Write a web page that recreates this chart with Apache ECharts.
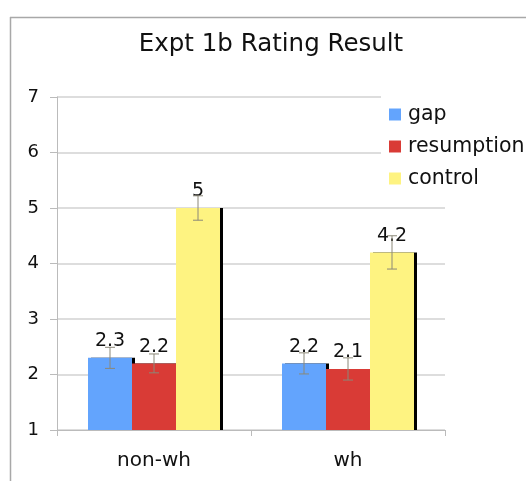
<!DOCTYPE html>
<html>
<head>
<meta charset="utf-8">
<script src="https://cdn.jsdelivr.net/npm/echarts@6/dist/echarts.min.js"></script>
<style>html,body{margin:0;padding:0;background:#fff;}#c{width:526px;height:481px;}</style>
</head>
<body>
<div id="c"></div>
<script>
var categories = ['non-wh', 'wh'];
var seriesNames = ['gap', 'resumption', 'control'];
var gapValues = [2.3, 2.2];
var resumptionValues = [2.2, 2.1];
var controlValues = [5, 4.2];
var gapErrors = [0.19, 0.19];
var resumptionErrors = [0.17, 0.2];
var controlErrors = [0.22, 0.3];
var yTicks = [1, 2, 3, 4, 5, 6, 7];

var colors = ['#63a4fd', '#d93b36', '#fef381'];
var FONT = 'DejaVu Sans';
var valuesList = [gapValues, resumptionValues, controlValues];
var errorsList = [gapErrors, resumptionErrors, controlErrors];
var BAR_W = 44;

var barSeries = seriesNames.map(function (name, si) {
  return {
    name: name,
    type: 'bar',
    data: valuesList[si],
    barWidth: BAR_W,
    barGap: '0%',
    itemStyle: {
      color: colors[si],
      shadowColor: '#000',
      shadowBlur: 0,
      shadowOffsetX: 3,
      shadowOffsetY: 0
    },
    label: {
      show: true,
      position: 'top',
      distance: 7,
      fontFamily: FONT,
      fontSize: 19,
      color: '#111',
      formatter: function (p) { return String(p.value); }
    },
    z: 2
  };
});

var errData = [];
for (var si = 0; si < 3; si++) {
  for (var ci = 0; ci < categories.length; ci++) {
    var v = valuesList[si][ci], e = errorsList[si][ci];
    errData.push([ci, v - e, v + e, si]);
  }
}

var errSeries = {
  type: 'custom',
  name: 'err',
  data: errData,
  encode: { x: 0, y: [1, 2] },
  z: 3,
  silent: true,
  renderItem: function (params, api) {
    var ci = api.value(0), lo = api.value(1), hi = api.value(2), si = api.value(3);
    var pLo = api.coord([ci, lo]);
    var pHi = api.coord([ci, hi]);
    var x = pLo[0] + (si - 1) * BAR_W;
    var hw = 5;
    var st = { stroke: '#8b8878', lineWidth: 1 };
    return {
      type: 'group',
      children: [
        { type: 'line', shape: { x1: x, y1: pLo[1], x2: x, y2: pHi[1] }, style: st },
        { type: 'line', shape: { x1: x - hw, y1: pLo[1], x2: x + hw, y2: pLo[1] }, style: st },
        { type: 'line', shape: { x1: x - hw, y1: pHi[1], x2: x + hw, y2: pHi[1] }, style: st }
      ]
    };
  }
};

var chart = echarts.init(document.getElementById('c'), null, { renderer: 'canvas' });
chart.setOption({
  animation: false,
  backgroundColor: '#fff',
  title: {
    text: 'Expt 1b Rating Result',
    left: 271,
    textAlign: 'center',
    top: 32,
    padding: 0,
    textStyle: { fontFamily: FONT, fontSize: 24.5, fontWeight: 'normal', color: '#111' }
  },
  grid: { left: 57, right: 81, top: 97, bottom: 51, containLabel: false },
  xAxis: {
    type: 'category',
    data: categories,
    axisLine: { show: true, lineStyle: { color: '#bbb', width: 1 } },
    axisTick: { show: true, length: 6, lineStyle: { color: '#bbb' } },
    axisLabel: { fontFamily: FONT, fontSize: 20, color: '#111', margin: 21 }
  },
  yAxis: {
    type: 'value',
    min: yTicks[0],
    max: yTicks[yTicks.length - 1],
    interval: 1,
    axisLine: { show: true, lineStyle: { color: '#bbb', width: 1 } },
    axisTick: { show: true, length: 7, lineStyle: { color: '#bbb' } },
    axisLabel: { fontFamily: FONT, fontSize: 18, color: '#111', margin: 18 },
    splitLine: { show: true, lineStyle: { color: '#d2d2d2', width: 1.5 } }
  },
  legend: {
    orient: 'vertical',
    left: 381,
    top: 96,
    padding: [8, 20, 8, 8],
    backgroundColor: '#fff',
    itemWidth: 12,
    itemHeight: 12,
    itemGap: 11,
    icon: 'rect',
    data: seriesNames,
    textStyle: { fontFamily: FONT, fontSize: 20.5, color: '#111', lineHeight: 20, padding: [0, 0, 0, 2] }
  },
  graphic: [
    { type: 'line', shape: { x1: 10.5, y1: 17, x2: 10.5, y2: 481 }, style: { stroke: '#a8a8a8', lineWidth: 1.5 }, z: 100 },
    { type: 'line', shape: { x1: 10, y1: 17.5, x2: 526, y2: 17.5 }, style: { stroke: '#a8a8a8', lineWidth: 1.5 }, z: 100 }
  ],
  series: barSeries.concat([errSeries])
});
</script>
</body>
</html>
